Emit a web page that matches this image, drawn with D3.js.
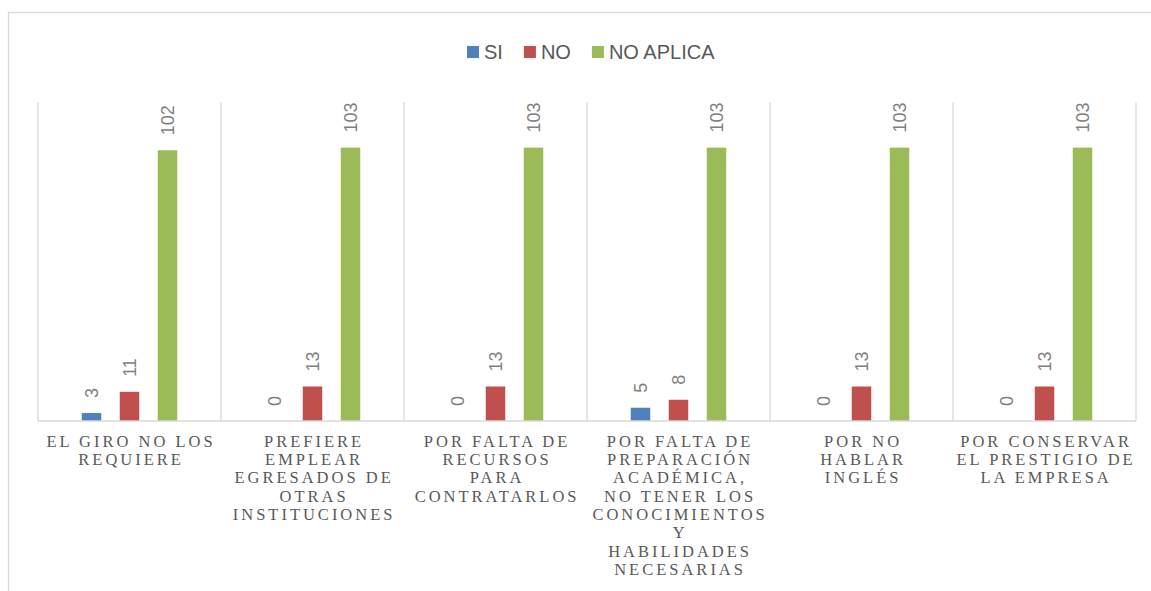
<!DOCTYPE html>
<html>
<head>
<meta charset="utf-8">
<script src="https://cdn.jsdelivr.net/npm/d3@7"></script>
<style>
  html, body { margin: 0; padding: 0; background: #ffffff; }
  svg { display: block; }
</style>
</head>
<body>
<svg id="chart" width="1151" height="591"></svg>
<script>
// Reasons given by companies, each with its wrapped axis label lines
const categories = [
  "EL GIRO NO LOS REQUIERE",
  "PREFIERE EMPLEAR EGRESADOS DE OTRAS INSTITUCIONES",
  "POR FALTA DE RECURSOS PARA CONTRATARLOS",
  "POR FALTA DE PREPARACIÓN ACADÉMICA, NO TENER LOS CONOCIMIENTOS Y HABILIDADES NECESARIAS",
  "POR NO HABLAR INGLÉS",
  "POR CONSERVAR EL PRESTIGIO DE LA EMPRESA"
];
const categoryLines = [
  ["EL GIRO NO LOS", "REQUIERE"],
  ["PREFIERE", "EMPLEAR", "EGRESADOS DE", "OTRAS", "INSTITUCIONES"],
  ["POR FALTA DE", "RECURSOS", "PARA", "CONTRATARLOS"],
  ["POR FALTA DE", "PREPARACIÓN", "ACADÉMICA,", "NO TENER LOS", "CONOCIMIENTOS", "Y", "HABILIDADES", "NECESARIAS"],
  ["POR NO", "HABLAR", "INGLÉS"],
  ["POR CONSERVAR", "EL PRESTIGIO DE", "LA EMPRESA"]
];
const seriesNames = ["SI", "NO", "NO APLICA"];
const siValues = [3, 0, 0, 5, 0, 0];
const noValues = [11, 13, 13, 8, 13, 13];
const noAplicaValues = [102, 103, 103, 103, 103, 103];
const seriesColors = ["#4f81bd", "#c0504d", "#9bbb59"];

const seriesValues = [siValues, noValues, noAplicaValues];
const rows = categories.map((c, i) => ({
  category: c,
  lines: categoryLines[i],
  values: seriesNames.map((s, j) => ({ series: s, value: seriesValues[j][i], color: seriesColors[j] }))
}));

const svg = d3.select("#chart");

// Outer chart frame
svg.append("rect")
  .attr("x", 8.5).attr("y", 12.5)
  .attr("width", 1200).attr("height", 700)
  .attr("fill", "#ffffff")
  .attr("stroke", "#d9d9d9").attr("stroke-width", 1.3);

const plot = { left: 38, right: 1136, top: 102.5, bottom: 421 };

const x0 = d3.scaleBand()
  .domain(categories)
  .range([plot.left, plot.right])
  .padding(0);

const x1 = d3.scaleBand()
  .domain(seriesNames)
  .range([0, x0.bandwidth()])
  .paddingInner(0.487)
  .paddingOuter(1.151);

const y = d3.scaleLinear()
  .domain([0, 120])
  .range([plot.bottom, plot.top]);

// Category separators
const separators = categories.map(c => x0(c)).concat([plot.right]);
svg.append("g")
  .selectAll("line")
  .data(separators)
  .join("line")
  .attr("x1", d => d).attr("x2", d => d)
  .attr("y1", y.range()[1]).attr("y2", y(0))
  .attr("stroke", "#d9d9d9").attr("stroke-width", 1.3);

// Bars
const groups = svg.append("g")
  .selectAll("g")
  .data(rows)
  .join("g")
  .attr("transform", d => `translate(${x0(d.category)},0)`);

groups.selectAll("rect")
  .data(d => d.values)
  .join("rect")
  .attr("x", d => x1(d.series))
  .attr("y", d => y(d.value))
  .attr("width", x1.bandwidth())
  .attr("height", d => y(0) - y(d.value))
  .attr("fill", d => d.color);

// Value labels, rotated, above each bar
groups.selectAll("text")
  .data(d => d.values)
  .join("text")
  .attr("transform", d => `translate(${x1(d.series) + x1.bandwidth() / 2},${y(d.value) - 15}) rotate(-90)`)
  .attr("dy", "0.35em")
  .attr("text-anchor", "start")
  .attr("font-family", "'Liberation Sans', Arial, sans-serif")
  .attr("font-size", 18)
  .attr("fill", "#7f7f7f")
  .text(d => d.value);

// Baseline axis
svg.append("line")
  .attr("x1", plot.left).attr("x2", plot.right)
  .attr("y1", y(0)).attr("y2", y(0))
  .attr("stroke", "#d9d9d9").attr("stroke-width", 1.6);

// Category labels
const xAxis = svg.append("g");
xAxis.selectAll("text")
  .data(rows)
  .join("text")
  .attr("x", d => x0(d.category) + x0.bandwidth() / 2 + 1.6)
  .attr("y", 446.7)
  .attr("text-anchor", "middle")
  .attr("font-family", "'Liberation Serif', 'Times New Roman', serif")
  .attr("font-size", 16.5)
  .attr("letter-spacing", "3px")
  .attr("fill", "#595959")
  .each(function (d) {
    d3.select(this).selectAll("tspan")
      .data(d.lines)
      .join("tspan")
      .attr("x", d3.select(this).attr("x"))
      .attr("dy", (l, i) => i === 0 ? 0 : 18.33)
      .text(l => l);
  });

// Legend
const legend = svg.append("g").attr("font-family", "'Liberation Sans', Arial, sans-serif");
let lx = 467;
seriesNames.forEach((s, i) => {
  legend.append("rect")
    .attr("x", lx).attr("y", 46)
    .attr("width", 12).attr("height", 12)
    .attr("fill", seriesColors[i]);
  const t = legend.append("text")
    .attr("x", lx + 17).attr("y", 58.5)
    .attr("font-size", 20)
    .attr("fill", "#595959")
    .text(s);
  lx = lx + 17 + t.node().getComputedTextLength() + 21;
});
</script>
</body>
</html>
